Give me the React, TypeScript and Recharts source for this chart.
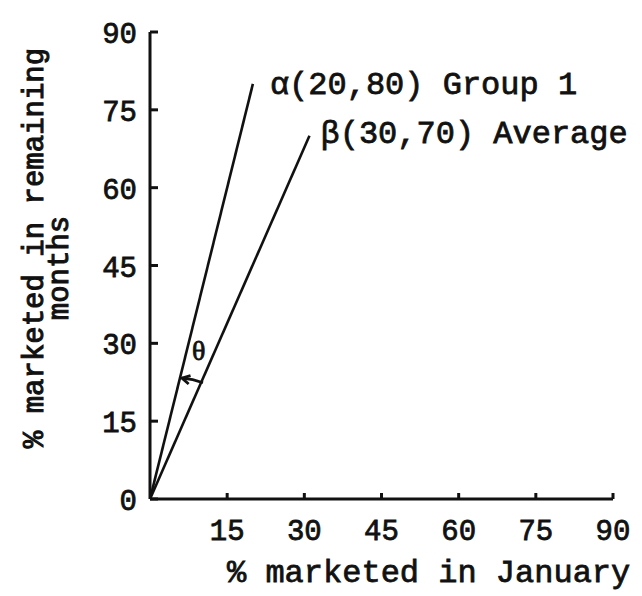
import { LineChart, Line, XAxis, YAxis, ReferenceLine, ReferenceDot } from 'recharts';

// values
const alphaX = [0, 20];
const alphaY = [0, 80];
const betaX = [0, 31];
const betaY = [0, 70];
const xTicks = [15, 30, 45, 60, 75, 90];
const yTicks = [0, 15, 30, 45, 60, 75, 90];
const alphaLabel = 'α(20,80) Group 1';
const betaLabel = 'β(30,70) Average';
const thetaFrom = { x: 10.3, y: 22.4 };
const thetaTo = { x: 6.2, y: 23.3 };
const thetaPos = { x: 9.7, y: 28.5 };

const alphaData = alphaX.map((x, i) => ({ x, y: alphaY[i] }));
const betaData = betaX.map((x, i) => ({ x, y: betaY[i] }));

const MONO = "'Liberation Mono', 'DejaVu Sans Mono', monospace";
const INK = '#111';
// typewriter ink is heavier than the regular face, lighter than bold
const inked = { fontFamily: MONO, fill: INK, stroke: INK, strokeWidth: 0.8 };

const YTick = ({ x, y, payload }: any) => (
  <g>
    <line x1={x} x2={x + 8} y1={y} y2={y} stroke={INK} strokeWidth={3} />
    <text x={x - 13} y={y + 11} textAnchor="end" fontSize={29} {...inked}>
      {payload.value}
    </text>
  </g>
);

const XTick = ({ x, y, payload }: any) => (
  <g>
    <line x1={x} x2={x} y1={y} y2={y - 6} stroke={INK} strokeWidth={3} />
    <text x={x} y={y + 41} textAnchor="middle" fontSize={29} {...inked}>
      {payload.value}
    </text>
  </g>
);

const ThetaArrow = ({ x1, y1, x2, y2 }: any) => {
  // arrow points from the beta line (x2,y2) to the alpha line (x1,y1)
  const dx = x1 - x2;
  const dy = y1 - y2;
  const len = Math.hypot(dx, dy) || 1;
  const ux = dx / len;
  const uy = dy / len;
  const a = 0.5;
  const h = 9;
  const p1 = [x1 - h * (ux * Math.cos(a) - uy * Math.sin(a)), y1 - h * (uy * Math.cos(a) + ux * Math.sin(a))];
  const p2 = [x1 - h * (ux * Math.cos(-a) - uy * Math.sin(-a)), y1 - h * (uy * Math.cos(-a) + ux * Math.sin(-a))];
  return (
    <g stroke={INK} strokeWidth={2.8} fill="none">
      <path d={`M${x2},${y2} Q${(x1 + x2) / 2 + 0.5},${(y1 + y2) / 2 - 1.5} ${x1},${y1}`} />
      <path d={`M${p1[0]},${p1[1]} L${x1},${y1} L${p2[0]},${p2[1]}`} />
    </g>
  );
};

const textAt = (value: string, dx: number, dy: number, size: number, font = MONO) => (p: any) => (
  <text x={p.cx + dx} y={p.cy + dy} fontSize={size} {...inked} fontFamily={font}>
    {value}
  </text>
);

export default function App() {
  return (
    <div style={{ position: 'absolute', left: 0, top: 0, background: '#fff' }}>
      <LineChart width={642} height={596} margin={{ top: 32, right: 29, left: 90, bottom: 37 }}>
        <XAxis
          type="number"
          dataKey="x"
          domain={[0, 90]}
          ticks={xTicks}
          tick={<XTick />}
          tickSize={0}
          tickMargin={0}
          tickLine={false}
          height={60}
          axisLine={{ stroke: INK, strokeWidth: 3 }}
          allowDataOverflow
        />
        <YAxis
          type="number"
          dataKey="y"
          domain={[0, 90]}
          ticks={yTicks}
          tick={<YTick />}
          tickSize={0}
          tickMargin={0}
          tickLine={false}
          width={60}
          axisLine={{ stroke: INK, strokeWidth: 3 }}
          allowDataOverflow
        />
        <Line data={alphaData} dataKey="y" stroke={INK} strokeWidth={2.6} dot={false} isAnimationActive={false} />
        <Line data={betaData} dataKey="y" stroke={INK} strokeWidth={2.6} dot={false} isAnimationActive={false} />
        <ReferenceLine segment={[thetaTo, thetaFrom]} shape={<ThetaArrow />} ifOverflow="visible" />
        <ReferenceDot x={alphaX[1]} y={alphaY[1]} r={1} shape={textAt(alphaLabel, 17, 10, 32)} ifOverflow="visible" />
        <ReferenceDot x={betaX[1]} y={betaY[1]} r={1} shape={textAt(betaLabel, 11, 7, 32)} ifOverflow="visible" />
        <ReferenceDot x={thetaPos.x} y={thetaPos.y} r={1} shape={textAt('θ', -8, 9, 28, "'Liberation Serif', serif")} ifOverflow="visible" />
        <text x={227} y={582} fontSize={32} {...inked}>
          % marketed in January
        </text>
        <text x={43} y={248} transform="rotate(-90 43 248)" textAnchor="middle" fontSize={29} {...inked} strokeWidth={1}>
          % marketed in remaining
        </text>
        <text x={68} y={268} transform="rotate(-90 68 268)" textAnchor="middle" fontSize={29} {...inked} strokeWidth={1}>
          months
        </text>
      </LineChart>
    </div>
  );
}
